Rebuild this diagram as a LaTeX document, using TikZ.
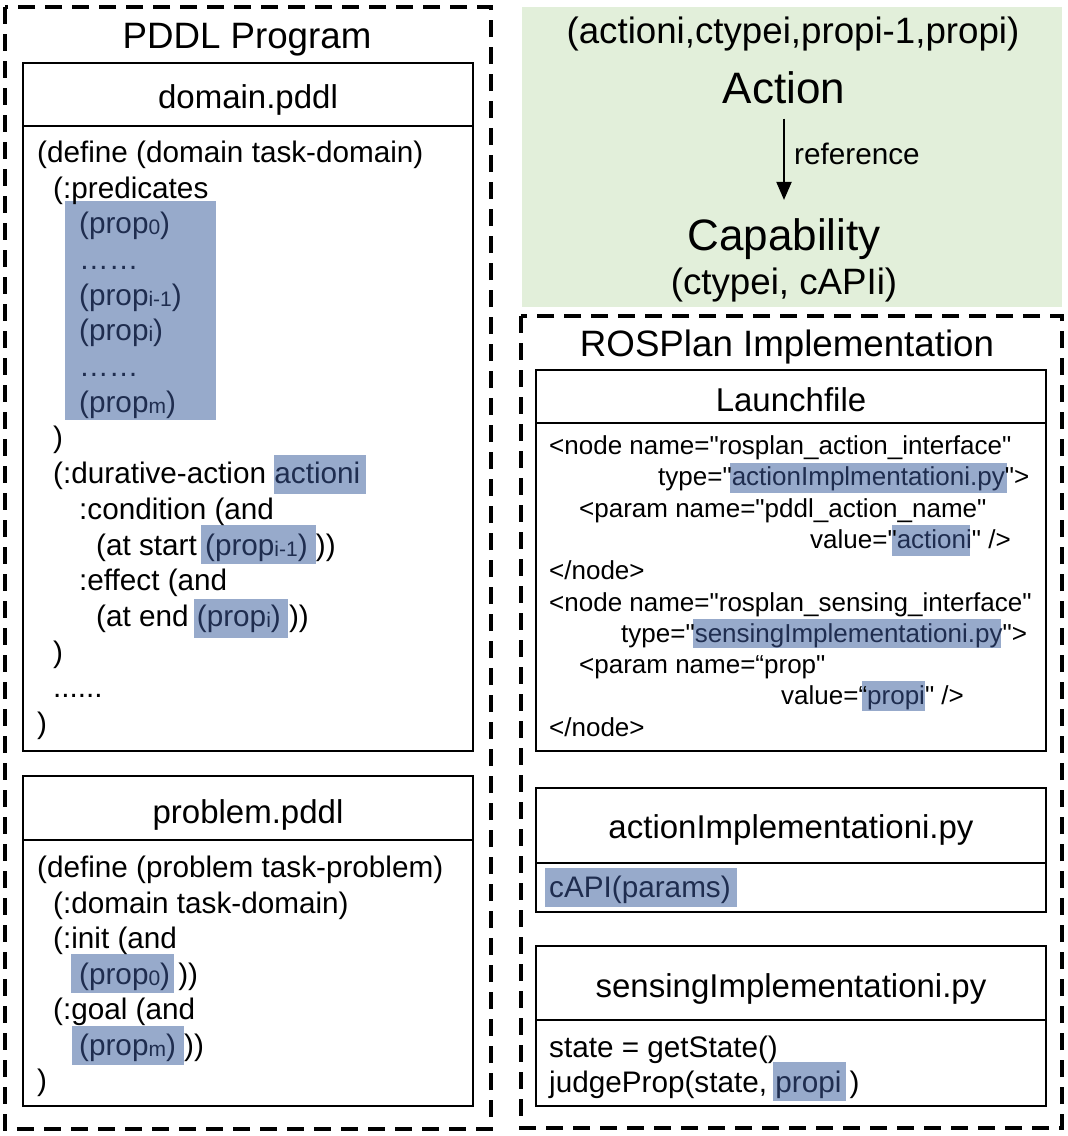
\documentclass[tikz,border=0pt]{standalone}
\usepackage{fontspec}
\setmainfont{Liberation Sans}
\newfontfamily\lsans{Liberation Sans}
\usetikzlibrary{arrows.meta}
\definecolor{hlbg}{HTML}{97AACB}
\definecolor{hltx}{HTML}{1F2D4F}
\definecolor{greenbg}{HTML}{E2EFDA}
\newcommand{\fcode}{\fontsize{29.7}{35.6}\selectfont}
\newcommand{\ftitle}{\fontsize{36.7}{44}\selectfont}
\newcommand{\fhead}{\fontsize{33}{40}\selectfont}
\newcommand{\flaunch}{\lsans\fontsize{26}{31.3}\selectfont}
\newcommand{\fbig}{\fontsize{44}{52}\selectfont}
\newcommand{\sbs}[1]{\raisebox{-1pt}{\fontsize{21}{21}\selectfont #1}}
\newcommand{\hlt}[1]{\textcolor{hltx}{#1}}
\begin{document}
\begin{tikzpicture}[x=1pt,y=-1pt,
  txt/.style={inner sep=0pt, anchor=base west, yshift=-2.5pt},
  ctr/.style={inner sep=0pt, anchor=base, yshift=-2.5pt},
  boxline/.style={line width=2pt},
  dashbox/.style={line width=3.5pt, dash pattern=on 17pt off 10pt},
  hlfill/.style={fill=hlbg, draw=none},
  refarrow/.style={line width=2pt, -{Triangle[length=18pt,width=15pt]}}]
\useasboundingbox (0,0) rectangle (1068,1136);

% ---------------- left: PDDL program ----------------
\draw[dashbox] (5,7) rectangle (491,1129);
\node[ctr, font=\ftitle] (pddltitle) at (247,46) {PDDL Program};

% domain.pddl
\draw[boxline] (23,63) rectangle (473,751);
\draw[boxline] (23,126) -- (473,126);
\node[ctr, font=\fhead] (domhead) at (248,105.5) {domain.pddl};
\fill[hlfill] (65,201) rectangle (216,420);
\fill[hlfill] (274,455) rectangle (366,494);
\fill[hlfill] (201,525) rectangle (316,564);
\fill[hlfill] (194,599) rectangle (288,638);
\begin{scope}[every node/.style={txt, font=\fcode}]
\node (d0) at (37,160) {(define (domain task-domain)};
\node (d1) at (53,195.7) {(:predicates};
\node (d2) at (79,231.4) {\hlt{(prop\sbs{0})}};
\node (d3) at (79,267) {\hlt{……}};
\node (d4) at (79,302.7) {\hlt{(prop\sbs{i-1})}};
\node (d5) at (79,338.4) {\hlt{(prop\sbs{i})}};
\node (d6) at (79,374.1) {\hlt{……}};
\node (d7) at (79,409.8) {\hlt{(prop\sbs{m})}};
\node (d8) at (53,445.4) {)};
\node (d9) at (53,481.1) {(:durative-action \hlt{actioni}};
\node (d10) at (79,516.8) {:condition (and};
\node (d11) at (96,552.5) {(at start \hlt{(prop\sbs{i-1})} ))};
\node (d12) at (79,588.2) {:effect (and};
\node (d13) at (96,623.8) {(at end \hlt{(prop\sbs{i})} ))};
\node (d14) at (53,659.5) {)};
\node (d15) at (53,695.2) {......};
\node (d16) at (37,730.9) {)};
\end{scope}

% problem.pddl
\draw[boxline] (23,776) rectangle (473,1106);
\draw[boxline] (23,840) -- (473,840);
\node[ctr, font=\fhead] (probhead) at (248,820.5) {problem.pddl};
\fill[hlfill] (71,954) rectangle (174,993);
\fill[hlfill] (72,1026) rectangle (184,1065);
\begin{scope}[every node/.style={txt, font=\fcode}]
\node (p0) at (37,875) {(define (problem task-problem)};
\node (p1) at (53,910.5) {(:domain task-domain)};
\node (p2) at (53,946) {(:init (and};
\node (p3) at (79,981.5) {\hlt{(prop\sbs{0})} ))};
\node (p4) at (53,1017) {(:goal (and};
\node (p5) at (79,1052.5) {\hlt{(prop\sbs{m})} ))};
\node (p6) at (37,1088) {)};
\end{scope}

% ---------------- right top: action / capability ----------------
\fill[greenbg] (522,7) rectangle (1062,307);
\node[ctr, font=\ftitle] (tuple) at (793,41) {(actioni,ctypei,propi-1,propi)};
\node[ctr, font=\fbig] (act) at (784,101) {Action};
\node[ctr, font=\fbig] (cap) at (784,248) {Capability};
\node[ctr, font=\ftitle] (capargs) at (784,292) {(ctypei, cAPIi)};
\draw[refarrow] ([yshift=-14.5pt]act.south) -- ([yshift=18.5pt]cap.north);
\node[txt, font=\fcode] (ref) at (794,162) {reference};

% ---------------- right bottom: ROSPlan ----------------
\draw[dashbox] (521,316) rectangle (1062,1128);
\node[ctr, font=\ftitle] (rostitle) at (787,354) {ROSPlan Implementation};

% Launchfile
\draw[boxline] (536,370) rectangle (1046,751);
\draw[boxline] (536,423) -- (1046,423);
\node[ctr, font=\fhead] (lfhead) at (791,409) {Launchfile};
\fill[hlfill] (730,463) rectangle (1007,493);
\fill[hlfill] (892,525) rectangle (970,556);
\fill[hlfill] (693,619) rectangle (1001,648);
\fill[hlfill] (862,681) rectangle (925,711);
\begin{scope}[every node/.style={txt, font=\flaunch}]
\node (l0) at (549,452) {<node name="rosplan\_action\_interface"};
\node (l1) at (658,483.3) {type="\hlt{actionImplmentationi.py}">};
\node (l2) at (579,514.6) {<param name="pddl\_action\_name"};
\node (l3) at (810,545.9) {value="\hlt{actioni}" />};
\node (l4) at (549,577.2) {</node>};
\node (l5) at (549,608.5) {<node name="rosplan\_sensing\_interface"};
\node (l6) at (621,639.8) {type="\hlt{sensingImplementationi.py}">};
\node (l7) at (579,671.1) {<param name=“prop"};
\node (l8) at (781,702.4) {value=“\hlt{propi}" />};
\node (l9) at (549,733.7) {</node>};
\end{scope}

% actionImplementationi.py
\draw[boxline] (536,788) rectangle (1046,912);
\draw[boxline] (536,863) -- (1046,863);
\node[ctr, font=\fhead] (aihead) at (791,836) {actionImplementationi.py};
\fill[hlfill] (545,868) rectangle (737,907);
\node[txt, font=\fcode] (ai0) at (549,895) {\hlt{cAPI(params)}};

% sensingImplementationi.py
\draw[boxline] (536,946) rectangle (1046,1106);
\draw[boxline] (536,1020) -- (1046,1020);
\node[ctr, font=\fhead] (sihead) at (791,995) {sensingImplementationi.py};
\fill[hlfill] (773,1062) rectangle (846,1101);
\node[txt, font=\fcode] (si0) at (549,1055) {state = getState()};
\node[txt, font=\fcode] (si1) at (549,1090) {judgeProp(state, \hlt{propi} )};
\end{tikzpicture}
\end{document}
